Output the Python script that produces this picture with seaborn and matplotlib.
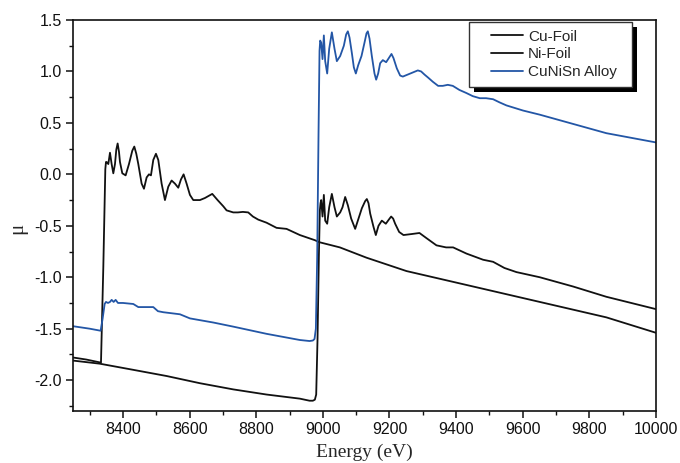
import numpy as np
import pandas as pd
import matplotlib
matplotlib.use("Agg")
import matplotlib.pyplot as plt
from matplotlib.patches import Rectangle
from matplotlib.lines import Line2D
from matplotlib.legend_handler import HandlerLine2D
from matplotlib.transforms import IdentityTransform
from matplotlib.ticker import MultipleLocator
import seaborn as sns

# ---------------- data ----------------
cu_energy = [8250, 8330, 8431, 8531, 8631, 8731, 8831, 8931, 8960, 8970, 8976, 8980,
             8984, 8988, 8991, 8993, 8995, 8999, 9003, 9007, 9013, 9019, 9027, 9035,
             9042, 9052, 9059, 9067, 9075, 9085, 9097, 9107, 9117, 9127, 9132, 9137,
             9142, 9152, 9159, 9167, 9177, 9189, 9198, 9205, 9211, 9217, 9229, 9242,
             9267, 9290, 9311, 9341, 9370, 9391, 9431, 9481, 9511, 9545, 9581, 9651,
             9751, 9851, 10000]
cu_mu = [-1.81, -1.84, -1.90, -1.96, -2.03, -2.09, -2.14, -2.18, -2.20, -2.20, -2.19, -2.14,
         -1.60, -0.80, -0.35, -0.28, -0.25, -0.41, -0.20, -0.45, -0.48, -0.32, -0.19, -0.32,
         -0.41, -0.37, -0.32, -0.22, -0.30, -0.43, -0.53, -0.43, -0.33, -0.26, -0.24, -0.28,
         -0.38, -0.51, -0.59, -0.50, -0.45, -0.48, -0.44, -0.41, -0.43, -0.48, -0.56, -0.59,
         -0.58, -0.57, -0.62, -0.69, -0.71, -0.71, -0.77, -0.83, -0.85, -0.91, -0.95, -1.00,
         -1.09, -1.19, -1.31]

ni_energy = [8250, 8290, 8334, 8341, 8347, 8349, 8351, 8356, 8361, 8366, 8371, 8376,
             8380, 8384, 8388, 8391, 8398, 8408, 8418, 8428, 8434, 8440, 8446, 8456,
             8463, 8471, 8478, 8484, 8491, 8499, 8506, 8516, 8526, 8536, 8546, 8556,
             8566, 8574, 8582, 8591, 8601, 8611, 8631, 8646, 8668, 8684, 8701, 8711,
             8731, 8745, 8760, 8776, 8790, 8806, 8831, 8861, 8891, 8931, 8976, 8990,
             9051, 9131, 9251, 9451, 9651, 9851, 10000]
ni_mu = [-1.78, -1.80, -1.83, -0.90, 0.05, 0.12, 0.12, 0.10, 0.21, 0.10, 0.01, 0.10,
         0.24, 0.30, 0.22, 0.12, 0.01, -0.01, 0.10, 0.23, 0.27, 0.20, 0.10, -0.09,
         -0.14, -0.03, 0.00, -0.01, 0.14, 0.20, 0.14, -0.09, -0.25, -0.12, -0.06, -0.09,
         -0.13, -0.05, 0.00, -0.09, -0.20, -0.25, -0.25, -0.23, -0.19, -0.25, -0.31, -0.35,
         -0.37, -0.37, -0.365, -0.37, -0.41, -0.44, -0.47, -0.52, -0.53, -0.59, -0.64, -0.66,
         -0.71, -0.81, -0.94, -1.09, -1.24, -1.39, -1.54]

alloy_energy = [8250, 8300, 8333, 8339, 8345, 8349, 8355, 8361, 8366, 8372, 8378, 8385,
                8400, 8431, 8446, 8461, 8481, 8491, 8505, 8521, 8571, 8601, 8671, 8731,
                8831, 8931, 8960, 8970, 8975, 8979, 8983, 8987, 8990, 8992, 8995, 8999,
                9003, 9007, 9013, 9019, 9027, 9035, 9042, 9052, 9063, 9070, 9075, 9080,
                9087, 9093, 9099, 9106, 9116, 9125, 9131, 9135, 9140, 9147, 9155, 9160,
                9166, 9172, 9180, 9190, 9198, 9206, 9212, 9222, 9232, 9240, 9255, 9270,
                9285, 9295, 9305, 9316, 9330, 9346, 9360, 9375, 9390, 9410, 9431, 9450,
                9471, 9490, 9511, 9530, 9551, 9601, 9651, 9751, 9851, 10000]
alloy_mu = [-1.476, -1.50, -1.52, -1.40, -1.26, -1.24, -1.25, -1.24, -1.22, -1.24, -1.22, -1.25,
            -1.25, -1.26, -1.29, -1.29, -1.29, -1.29, -1.33, -1.34, -1.36, -1.40, -1.44, -1.48,
            -1.55, -1.61, -1.62, -1.615, -1.60, -1.50, -0.80, 0.40, 1.20, 1.30, 1.28, 1.12,
            1.35, 1.10, 0.98, 1.22, 1.38, 1.22, 1.10, 1.15, 1.25, 1.36, 1.39, 1.33,
            1.18, 1.04, 0.98, 1.06, 1.15, 1.28, 1.37, 1.39, 1.32, 1.15, 0.98, 0.92,
            0.98, 1.08, 1.11, 1.09, 1.13, 1.17, 1.13, 1.03, 0.96, 0.95, 0.97, 0.99,
            1.01, 1.00, 0.97, 0.94, 0.90, 0.86, 0.86, 0.87, 0.86, 0.82, 0.79, 0.76,
            0.74, 0.74, 0.73, 0.70, 0.67, 0.62, 0.58, 0.49, 0.40, 0.31]

series_labels = ["Cu-Foil", "Ni-Foil", "CuNiSn Alloy"]
x_ticks = [8400, 8600, 8800, 9000, 9200, 9400, 9600, 9800, 10000]
y_ticks = [-2.0, -1.5, -1.0, -0.5, 0.0, 0.5, 1.0, 1.5]

# ---------------- style ----------------
sns.set_style("ticks")
plt.rcParams["font.family"] = ["Liberation Sans", "DejaVu Sans"]
plt.rcParams["axes.unicode_minus"] = False

fig = plt.figure(figsize=(6.8, 4.63), dpi=100)
ax = fig.add_axes([73 / 680, 52 / 463, (656 - 73) / 680, (411 - 20) / 463])

black = "#111111"
blue = "#2356a6"

df_cu = pd.DataFrame({"E": cu_energy, "mu": cu_mu})
df_ni = pd.DataFrame({"E": ni_energy, "mu": ni_mu})
df_al = pd.DataFrame({"E": alloy_energy, "mu": alloy_mu})

line_kw = dict(lw=1.5, estimator=None, sort=False, solid_joinstyle="round",
               solid_capstyle="round")
sns.lineplot(data=df_cu, x="E", y="mu", ax=ax, color=black,
             label=series_labels[0], **line_kw)
sns.lineplot(data=df_ni, x="E", y="mu", ax=ax, color=black,
             label=series_labels[1], **line_kw)
sns.lineplot(data=df_al, x="E", y="mu", ax=ax, color=blue,
             label=series_labels[2], **line_kw)

ax.set_xlim(8250, 10000)
ax.set_ylim(-2.3, 1.5)
ax.set_xticks(x_ticks)
ax.set_yticks(y_ticks)
ax.set_yticklabels([f"{v:.1f}" for v in y_ticks])
ax.xaxis.set_minor_locator(MultipleLocator(100))
ax.yaxis.set_minor_locator(MultipleLocator(0.25))
ax.tick_params(which="major", direction="out", length=5, width=1.1,
               labelsize=11.5, pad=3, colors=black)
ax.tick_params(which="minor", direction="out", length=3, width=1.0, colors=black)
ax.tick_params(top=False, right=False, which="both")

for s in ax.spines.values():
    s.set_visible(True)
    s.set_linewidth(1.2)
    s.set_color(black)

ax.set_xlabel("Energy (eV)", family=["Liberation Serif", "DejaVu Serif"], fontsize=14,
              labelpad=5)
ax.set_ylabel("μ", family=["Liberation Serif", "DejaVu Serif"], fontsize=15)
ax.yaxis.set_label_coords((27 - 73) / 583, 0.468)

handles, labels = ax.get_legend_handles_labels()
for h in handles:
    h.set_linewidth(1.3)
leg = ax.legend(handles, labels, loc="upper left",
                bbox_to_anchor=((469 - 73) / 583, 0.5, 163 / 583, 0.495),
                mode="expand", borderaxespad=0,
                fontsize=11, frameon=True, fancybox=False, framealpha=1,
                edgecolor="#333333", handlelength=3.04, handletextpad=0.33,
                labelspacing=0.25, borderpad=0.5,
                handler_map={Line2D: HandlerLine2D(xpad=0.94)})
leg.get_frame().set_linewidth(1.0)
leg.set_zorder(5)

fig.canvas.draw()
bb = leg.get_window_extent()
shadow = Rectangle((bb.x0 + 5, bb.y0 - 5), bb.width, bb.height,
                   transform=IdentityTransform(), facecolor="black",
                   edgecolor="none", zorder=4.5, clip_on=False)
ax.add_artist(shadow)

fig.savefig("out.png", dpi=100)
